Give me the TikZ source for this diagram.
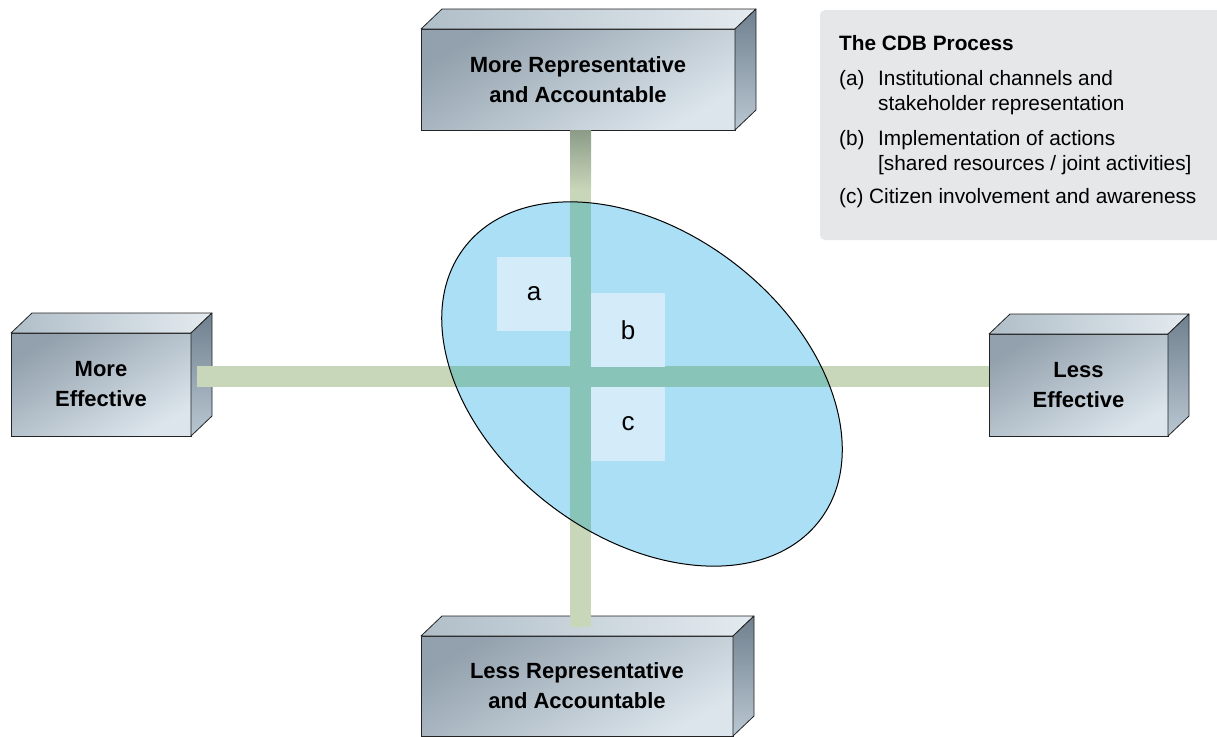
\documentclass[tikz,border=0pt]{standalone}
\usepackage{fontspec}
\setmainfont{Liberation Sans}
\usetikzlibrary{calc}
\definecolor{barc}{RGB}{200,214,185}
\definecolor{barshade}{RGB}{140,156,136}
\definecolor{barin}{RGB}{136,196,184}
\definecolor{ellc}{RGB}{170,223,245}
\definecolor{sqc}{RGB}{212,236,250}
\definecolor{legbg}{RGB}{230,231,233}
\definecolor{fdark}{RGB}{146,161,173}
\definecolor{flight}{RGB}{220,229,236}
\definecolor{tdark}{RGB}{176,190,200}
\definecolor{tlight}{RGB}{228,235,240}
\definecolor{sdark}{RGB}{112,128,142}
\definecolor{slight}{RGB}{185,199,210}
\definecolor{edgec}{RGB}{35,35,35}
\begin{document}
\begin{tikzpicture}[x=1pt,y=-1pt,
  frontbox/.style={draw=edgec, line width=0.8pt, outer sep=0pt, inner sep=0pt,
    top color=fdark, bottom color=flight, shading angle=30,
    align=center, font=\fontsize{22}{30}\selectfont\bfseries},
  topface/.style={draw=edgec, line width=0.8pt, line join=round, left color=tdark, right color=tlight},
  sideface/.style={draw=edgec, line width=0.8pt, line join=round, top color=sdark, bottom color=slight},
  barline/.style={line width=21pt, line cap=butt, draw=barc},
  sqbox/.style={fill=sqc, minimum size=74pt, inner sep=0pt, font=\fontsize{26}{26}\selectfont},
  legtext/.style={anchor=base west, inner sep=0pt, font=\fontsize{20.8}{25}\selectfont},
  ellpath/.style={shift={(642,384)}, rotate=-37.6}
]
\useasboundingbox (0,0) rectangle (1217,736);

% boxes (front faces as nodes)
\node[frontbox, minimum width=314pt, minimum height=101pt] (mra) at (578,79.5) {More Representative\\and Accountable};
\node[frontbox, minimum width=180pt, minimum height=103pt] (me) at (101,384.5) {More\\Effective};
\node[frontbox, minimum width=179pt, minimum height=102pt] (le) at (1078.5,385) {Less\\Effective};
\node[frontbox, minimum width=312pt, minimum height=100pt] (lra) at (577,686) {Less Representative\\and Accountable};

\foreach \n in {mra,me,le,lra} {
  \path[topface] (\n.north west) -- ($(\n.north west)+(21,-20)$) -- ($(\n.north east)+(21,-20)$) -- (\n.north east) -- cycle;
  \path[sideface] (\n.north east) -- ($(\n.north east)+(21,-20)$) -- ($(\n.south east)+(21,-20)$) -- (\n.south east) -- cycle;
}

% bars
\coordinate (vt) at (580.5,130.5);
\coordinate (vb) at (580.5,627);
\coordinate (hl) at (197,376.5);
\coordinate (hr) at (le.west |- hl);
\draw[barline] (vt) -- (vb);
\shade[top color=barshade, bottom color=barc] (570,130.5) rectangle (591,190);
\draw[barline] (hl) -- (hr);

% ellipse
\fill[ellpath, fill=ellc] (0,0) ellipse [x radius=224, y radius=152];
\begin{scope}
  \clip[ellpath] (0,0) ellipse [x radius=224, y radius=152];
  \draw[barline, draw=barin] (vt) -- (vb);
  \draw[barline, draw=barin] (hl) -- (hr);
\end{scope}

% squares
\node[sqbox] (sa) at (534,294) {a};
\node[sqbox] (sb) at (628,330) {b};
\node[sqbox] (sc) at (628,424) {c};

\draw[ellpath, line width=1pt, draw=black] (0,0) ellipse [x radius=224, y radius=152];

% legend
\fill[legbg, rounded corners=5pt] (820,10) rectangle (1230,240);
\node[legtext, font=\fontsize{20.8}{25}\selectfont\bfseries] (lt) at (839,50) {The CDB Process};
\node[legtext] (la) at (839,85) {(a)};
\node[legtext] (la1) at (878,85) {Institutional channels and};
\node[legtext] (la2) at (878,110) {stakeholder representation};
\node[legtext] (lb) at (839,145) {(b)};
\node[legtext] (lb1) at (878,145) {Implementation of actions};
\node[legtext] (lb2) at (878,170) {[shared resources / joint activities]};
\node[legtext] (lc) at (839,203) {(c) Citizen involvement and awareness};
\end{tikzpicture}
\end{document}
